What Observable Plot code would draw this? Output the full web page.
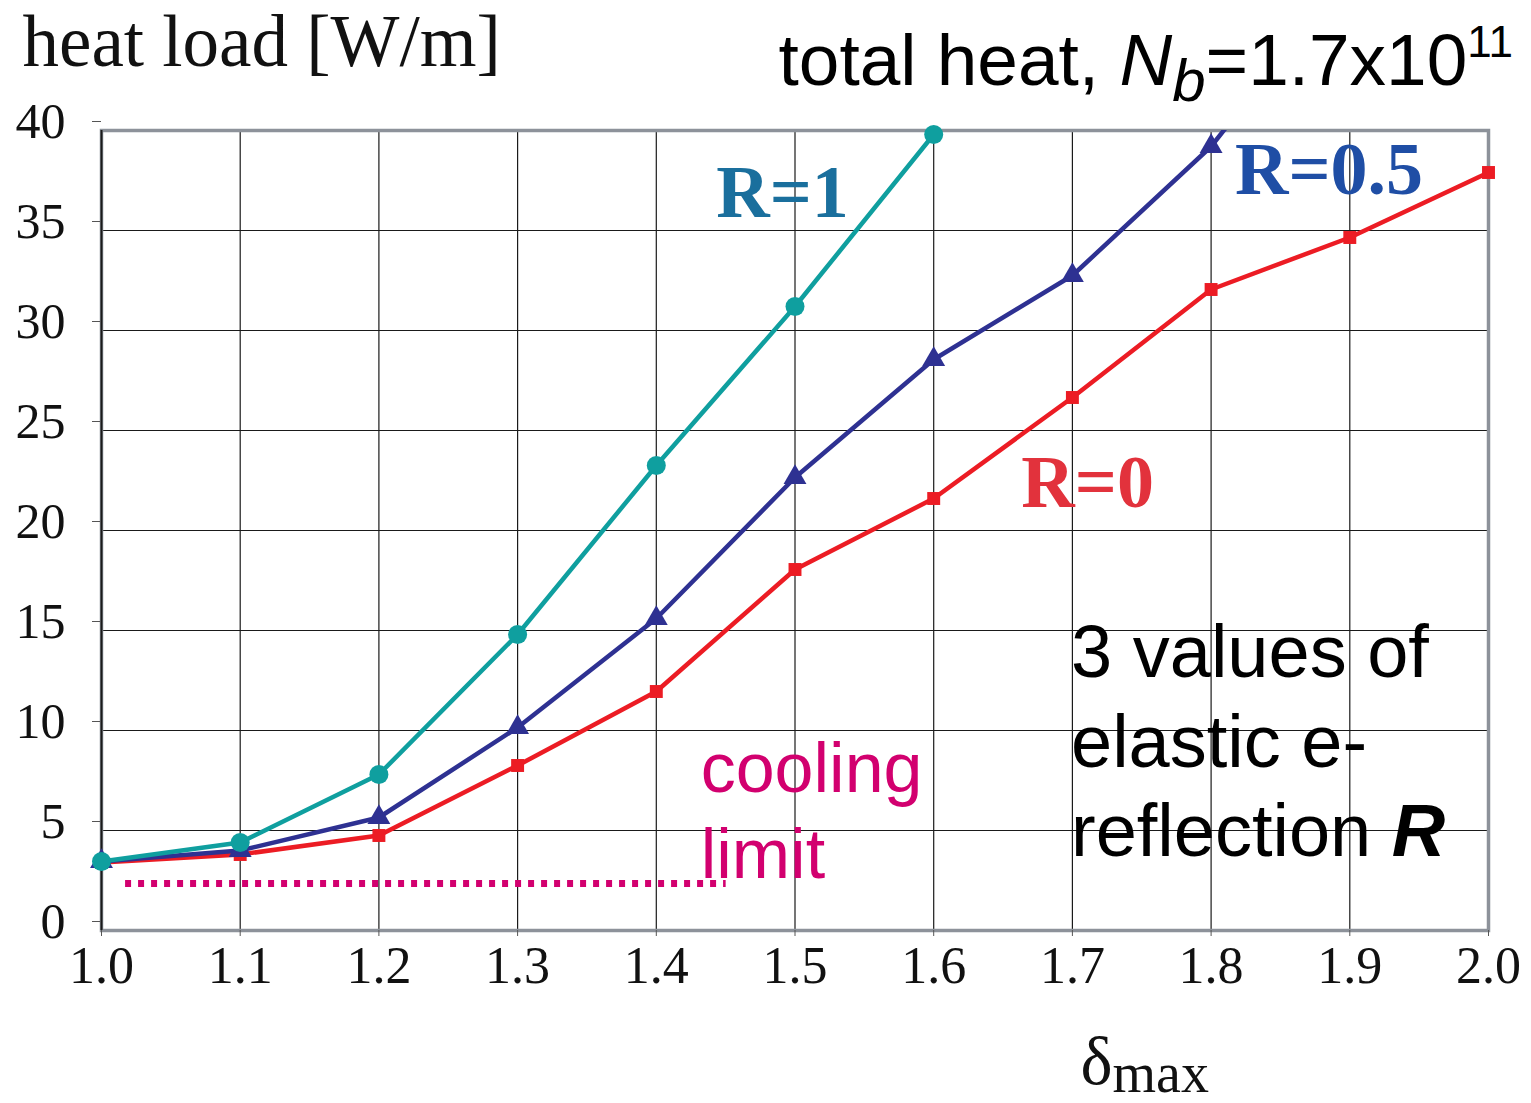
<!DOCTYPE html>
<html><head><meta charset="utf-8">
<script src="https://cdn.jsdelivr.net/npm/d3@7"></script>
<script src="https://cdn.jsdelivr.net/npm/@observablehq/plot@0.6"></script>
<style>html,body{margin:0;padding:0;background:#fff;overflow:hidden}</style>
</head><body><div id="chart"></div>
<script>
// ---- data ----
const deltaMax = [1.0, 1.1, 1.2, 1.3, 1.4, 1.5, 1.6, 1.7, 1.8, 1.9, 2.0];
const heatR1  = [3.45, 4.4, 7.8, 14.8, 23.25, 31.2, 39.8, 47.5];          // last point runs off the top
const heatR05 = [3.45, 4.0, 5.65, 10.15, 15.6, 22.65, 28.55, 32.75, 39.2, 48.0]; // last point runs off the top
const heatR0  = [3.4, 3.8, 4.75, 8.25, 11.95, 18.05, 21.6, 26.65, 32.05, 34.65, 37.9];
const yTicks = [0, 5, 10, 15, 20, 25, 30, 35, 40];
const xTicks = [1.0, 1.1, 1.2, 1.3, 1.4, 1.5, 1.6, 1.7, 1.8, 1.9, 2.0];
const coolingLimitY = [2.35, 2.35];
const coolingLimitX = [1.017, 1.45];
const seriesNames = ["R=0", "R=0.5", "R=1"];

const serif = "'Liberation Serif','Times New Roman',serif";
const sans = "'Liberation Sans',Arial,Helvetica,sans-serif";
const cRed = "#ec1c24", cNavy = "#2e3192", cTeal = "#0f9f9f";

const toRows = (vals) => vals.map((y, i) => ({x: deltaMax[i], y}));
const r0 = toRows(heatR0), r05 = toRows(heatR05), r1 = toRows(heatR1);
const inFrame = (rows) => rows.filter(d => d.y <= 40);
const cooling = coolingLimitX.map((x, i) => ({x, y: coolingLimitY[i]}));

const TITLE2 = "total heat, Nb=1.7x1011";
const XLABEL = "δmax";
const NOTE = "3 values of\nelastic e-\nreflection R";

const plot = Plot.plot({
  width: 1531, height: 1103,
  marginLeft: 101, marginRight: 43, marginTop: 130, marginBottom: 173,
  style: {fontFamily: serif, fontSize: "50px", background: "#fff", color: "#111", overflow: "visible"},
  x: {domain: [1, 2]},
  y: {domain: [0, 40]},
  marks: [
    Plot.gridX(xTicks, {stroke: "#1a1a1a", strokeOpacity: 1, strokeWidth: 1.2}),
    Plot.gridY(yTicks, {stroke: "#1a1a1a", strokeOpacity: 1, strokeWidth: 1.2}),
    Plot.frame({stroke: "#8d929a", strokeWidth: 3.5}),
    Plot.ruleX([1], {stroke: "#1a1a1a", strokeWidth: 2}),
    Plot.axisY(yTicks, {tickSize: 9, tickPadding: 27, dy: -9, fontSize: 50, fontFamily: serif, label: null, stroke: "#555"}),
    Plot.axisX(xTicks, {tickSize: 6, tickPadding: 10, tickFormat: d => d.toFixed(1), fontSize: 52, fontFamily: serif, label: null, stroke: "#555"}),
    // cooling limit
    Plot.line(cooling, {x: "x", y: "y", stroke: "#d2006f", strokeWidth: 7, strokeDasharray: "6,7", strokeLinecap: "butt"}),
    // series
    Plot.line(r0, {x: "x", y: "y", stroke: cRed, strokeWidth: 4.5, clip: true}),
    Plot.dot(inFrame(r0), {x: "x", y: "y", symbol: "square", r: 7.3, fill: cRed}),
    Plot.line(r05, {x: "x", y: "y", stroke: cNavy, strokeWidth: 4.5, clip: true}),
    Plot.dot(inFrame(r05), {x: "x", y: "y", symbol: "triangle", r: 8.5, fill: cNavy}),
    Plot.line(r1, {x: "x", y: "y", stroke: cTeal, strokeWidth: 4.5, clip: true}),
    Plot.dot(inFrame(r1), {x: "x", y: "y", symbol: "circle", r: 9.5, fill: cTeal}),
    // series labels
    Plot.text([{x: 1.491, y: 36.85, t: seriesNames[2]}], {x: "x", y: "y", text: "t", fill: "#1a6f9d", fontSize: 74, fontWeight: "bold", fontFamily: serif}),
    Plot.text([{x: 1.885, y: 38.0, t: seriesNames[1]}], {x: "x", y: "y", text: "t", fill: "#1f4ea5", fontSize: 74, fontWeight: "bold", fontFamily: serif}),
    Plot.text([{x: 1.711, y: 22.35, t: seriesNames[0]}], {x: "x", y: "y", text: "t", fill: "#e2323c", fontSize: 74, fontWeight: "bold", fontFamily: serif}),
    // annotations
    Plot.text([{x: 1.432, y: 10.0, t: "cooling\nlimit"}], {x: "x", y: "y", text: "t", fill: "#d2006f", fontSize: 70, fontFamily: sans, textAnchor: "start", lineAnchor: "top", lineHeight: 1.23}),
    Plot.text([{x: 1.699, y: 15.85, t: NOTE}], {x: "x", y: "y", text: "t", fill: "#000", fontSize: 74, fontFamily: sans, textAnchor: "start", lineAnchor: "top", lineHeight: 1.21}),
    // titles
    Plot.text(["heat load [W/m]"], {frameAnchor: "top-left", dx: -79, dy: -88, textAnchor: "start", lineAnchor: "middle", fontSize: 73, fontFamily: serif, fill: "#111"}),
    Plot.text([TITLE2], {frameAnchor: "top-left", dx: 677, dy: -69, textAnchor: "start", lineAnchor: "middle", fontSize: 73, fontFamily: sans, fill: "#000"}),
    Plot.text([XLABEL], {frameAnchor: "bottom-left", dx: 979, dy: 132, textAnchor: "start", lineAnchor: "middle", fontSize: 68, fontFamily: serif, fill: "#111"})
  ]
});
document.getElementById("chart").appendChild(plot);

// rich-text fix-ups (italics, sub/superscripts)
const svg = d3.select(plot);
svg.selectAll("text").filter(function() { return this.textContent === TITLE2; }).each(function() {
  const t = d3.select(this).text(null);
  t.append("tspan").text("total heat, ");
  t.append("tspan").attr("font-style", "italic").text("N");
  t.append("tspan").attr("font-style", "italic").attr("font-size", 60).attr("dy", 16).text("b");
  t.append("tspan").attr("dy", -16).text("=1.7x10");
  t.append("tspan").attr("font-size", 44).attr("dy", -28).text("11");
});
svg.selectAll("text").filter(function() { return this.textContent === XLABEL; }).each(function() {
  const t = d3.select(this).text(null);
  t.append("tspan").text("δ");
  t.append("tspan").attr("font-size", 56).attr("dy", 8).text("max");
});
svg.selectAll("tspan").filter(function() { return this.textContent === "reflection R"; }).each(function() {
  const t = d3.select(this).text("reflection ");
  t.append("tspan").attr("font-weight", "bold").attr("font-style", "italic").text("R");
});
</script>
</body></html>
